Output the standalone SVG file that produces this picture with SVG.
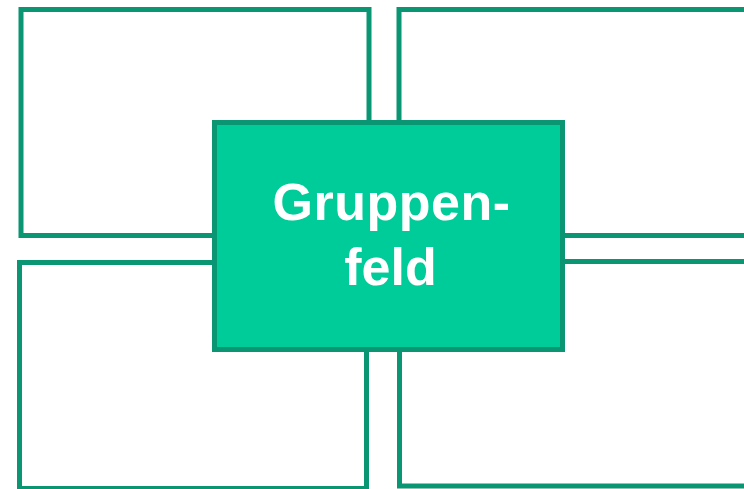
<svg xmlns="http://www.w3.org/2000/svg" width="744" height="489" viewBox="0 0 744 489">
<style>
.frame{fill:#ffffff;stroke:#0a9672;stroke-width:5}
.center{fill:#00cc99;stroke:#0a9672;stroke-width:5}
.lbl{font-family:"Liberation Sans",Arial,sans-serif;font-weight:bold;font-size:52px;fill:#ffffff;text-anchor:middle}
</style>
<g id="top-left"><rect class="frame" x="21" y="9.5" width="348" height="226"/></g>
<g id="top-right"><rect class="frame" x="399" y="9.5" width="360" height="226"/></g>
<g id="bottom-left"><rect class="frame" x="19.5" y="262.5" width="347" height="226"/></g>
<g id="bottom-right"><rect class="frame" x="399.5" y="261.5" width="360" height="224.5"/></g>
<g id="connectors"></g>
<g id="gruppenfeld">
<rect class="center" x="214.5" y="122.5" width="348" height="227"/>
<text class="lbl" x="391.5" y="220" letter-spacing="0.5">Gruppen-</text>
<text class="lbl" x="390.5" y="285">feld</text>
</g>
</svg>
